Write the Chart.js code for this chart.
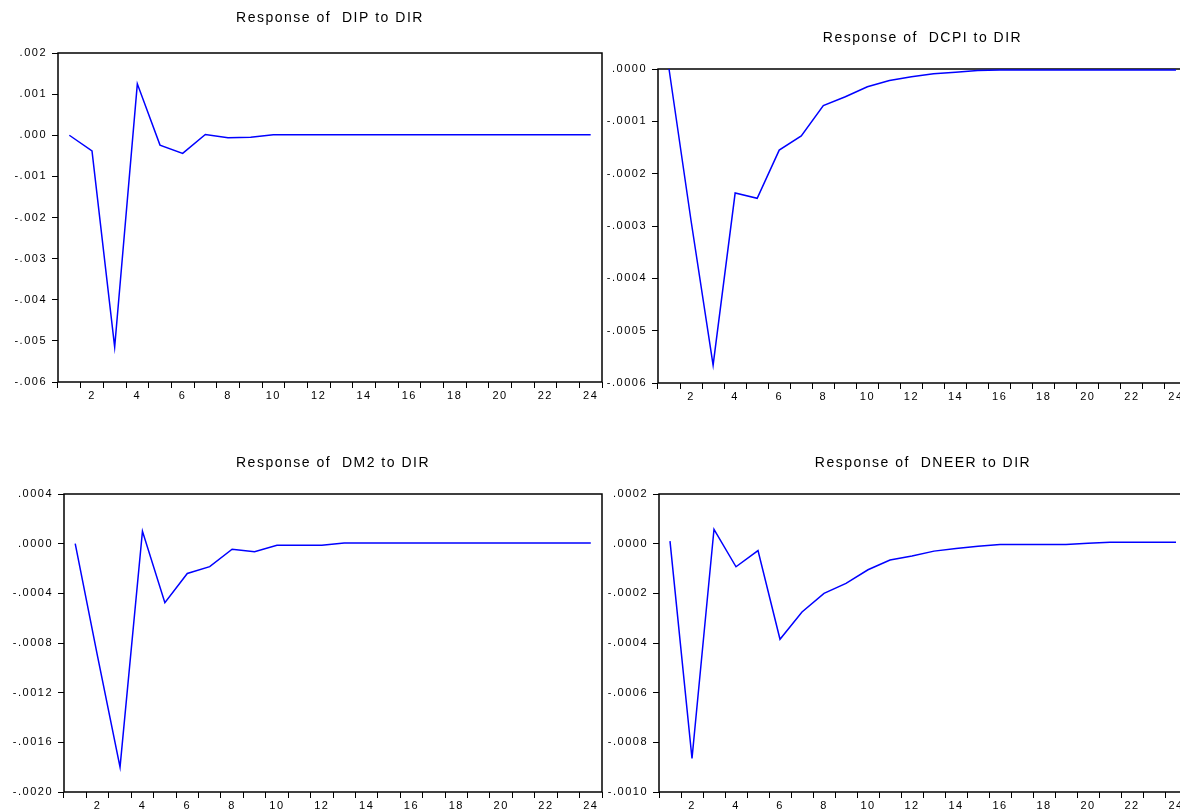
<!DOCTYPE html>
<html>
<head>
<meta charset="utf-8">
<script src="https://cdn.jsdelivr.net/npm/chart.js@4.4.1/dist/chart.umd.min.js"></script>
<style>
  html, body { margin: 0; padding: 0; background: #fff; }
  #page { position: relative; width: 1180px; height: 812px; overflow: hidden; background: #fff; }
  canvas { position: absolute; }
</style>
</head>
<body>
<div id="page">
  <canvas id="dip"></canvas>
  <canvas id="dcpi"></canvas>
  <canvas id="dm2"></canvas>
  <canvas id="dneer"></canvas>
</div>
<script>
// periods of the impulse response
const periods = ['1', '2', '3', '4', '5', '6', '7', '8', '9', '10', '11', '12',
                 '13', '14', '15', '16', '17', '18', '19', '20', '21', '22', '23', '24'];

// responses
const dipValues = [0.0, -0.00038, -0.00515, 0.00125, -0.00024, -0.00044, 0.00002, -0.00006,
                   -0.00005, 0.00001, 0.00001, 0.00001, 0.00001, 0.00001, 0.00001, 0.00001,
                   0.00001, 0.00001, 0.00001, 0.00001, 0.00001, 0.00001, 0.00001, 0.00001];
const dcpiValues = [0.0, -0.00029, -0.000566, -0.000237, -0.000247, -0.000155, -0.000128, -0.00007,
                    -0.000053, -0.000034, -0.000022, -0.000015, -0.000009, -0.000006, -0.000003, -0.000002,
                    -0.000002, -0.000002, -0.000002, -0.000002, -0.000002, -0.000002, -0.000002, -0.000002];
const dm2Values = [0.0, -0.00091, -0.0018, 0.0001, -0.000475, -0.00024, -0.000185, -0.000045,
                   -0.000065, -0.000012, -0.000012, -0.000012, 0.000005, 0.000005, 0.000005, 0.000005,
                   0.000005, 0.000005, 0.000005, 0.000005, 0.000005, 0.000005, 0.000005, 0.000005];
const dneerValues = [0.00001, -0.000865, 0.000058, -0.000093, -0.000028, -0.000385, -0.000275, -0.0002,
                     -0.00016, -0.000105, -0.000066, -0.00005, -0.00003, -0.000019, -0.00001, -0.000003,
                     -0.000003, -0.000003, -0.000003, 0.000002, 0.000006, 0.000006, 0.000006, 0.000006];

// y tick values
const dipTicks = [-0.006, -0.005, -0.004, -0.003, -0.002, -0.001, 0, 0.001, 0.002];
const dcpiTicks = [-0.0006, -0.0005, -0.0004, -0.0003, -0.0002, -0.0001, 0];
const dm2Ticks = [-0.0020, -0.0016, -0.0012, -0.0008, -0.0004, 0, 0.0004];
const dneerTicks = [-0.0010, -0.0008, -0.0006, -0.0004, -0.0002, 0, 0.0002];

const FONT = 'Liberation Sans, Arial, sans-serif';

// eviews style labels: .002, -.0004
function tickLabel(v, digits) {
    const s = Math.abs(v).toFixed(digits).replace(/^0/, '');
    return (v < -1e-12 ? '-' : '') + s;
}

const framePlugin = {
    id: 'frame',
    beforeDraw(chart) {
        chart.ctx.letterSpacing = '1.5px';
    },
    beforeDatasetsDraw(chart) {
        const { ctx, chartArea: a } = chart;
        ctx.save();
        ctx.strokeStyle = '#000';
        ctx.lineWidth = 1.5;
        ctx.strokeRect(a.left, a.top, a.right - a.left, a.bottom - a.top);
        ctx.restore();
    }
};

const panels = [
    { id: 'dip', title: 'Response of  DIP to DIR', values: dipValues, ticks: dipTicks, digits: 3,
      left: 0, top: 0, width: 610, height: 410, yWidth: 58, xHeight: 28, padRight: 8, titleTop: 11, titleBottom: 28 },
    { id: 'dcpi', title: 'Response of  DCPI to DIR', values: dcpiValues, ticks: dcpiTicks, digits: 4,
      left: 600, top: 0, width: 600, height: 410, yWidth: 58, xHeight: 27, padRight: 13, titleTop: 31, titleBottom: 24 },
    { id: 'dm2', title: 'Response of  DM2 to DIR', values: dm2Values, ticks: dm2Ticks, digits: 4,
      left: 0, top: 440, width: 610, height: 372, yWidth: 64, xHeight: 20, padRight: 8, titleTop: 16, titleBottom: 24 },
    { id: 'dneer', title: 'Response of  DNEER to DIR', values: dneerValues, ticks: dneerTicks, digits: 4,
      left: 600, top: 440, width: 600, height: 372, yWidth: 59, xHeight: 20, padRight: 13, titleTop: 16, titleBottom: 24 }
];

panels.forEach(p => {
    const canvas = document.getElementById(p.id);
    canvas.width = p.width;
    canvas.height = p.height;
    canvas.style.left = p.left + 'px';
    canvas.style.top = p.top + 'px';

    new Chart(canvas.getContext('2d'), {
        type: 'line',
        data: {
            labels: periods,
            datasets: [{
                data: p.values,
                borderColor: '#0000ff',
                borderWidth: 1.5,
                pointRadius: 0,
                tension: 0,
                fill: false,
                clip: false
            }]
        },
        options: {
            responsive: false,
            animation: false,
            layout: { padding: { left: 0, right: p.padRight, top: 0, bottom: 0 } },
            plugins: {
                legend: { display: false },
                tooltip: { enabled: false },
                title: {
                    display: true,
                    text: p.title,
                    fullSize: false,
                    color: '#000',
                    font: { family: FONT, size: 14, weight: 'normal', lineHeight: 1 },
                    padding: { top: p.titleTop, bottom: p.titleBottom }
                }
            },
            scales: {
                x: {
                    offset: true,
                    grid: { offset: true, drawOnChartArea: false, drawTicks: true, tickLength: 6, color: '#000', lineWidth: 1 },
                    border: { display: false },
                    ticks: {
                        autoSkip: false,
                        maxRotation: 0,
                        padding: 1,
                        color: '#000',
                        font: { family: FONT, size: 11 },
                        callback: (value, index) => (index % 2 === 1 ? periods[index] : '')
                    },
                    afterFit: scale => { scale.height = p.xHeight; }
                },
                y: {
                    min: p.ticks[0],
                    max: p.ticks[p.ticks.length - 1],
                    grid: { drawOnChartArea: false, drawTicks: true, tickLength: 6, color: '#000', lineWidth: 1 },
                    border: { display: false },
                    ticks: {
                        padding: 5,
                        color: '#000',
                        font: { family: FONT, size: 11 },
                        callback: value => tickLabel(value, p.digits)
                    },
                    afterBuildTicks: scale => { scale.ticks = p.ticks.map(v => ({ value: v })); },
                    afterFit: scale => { scale.width = p.yWidth; }
                }
            }
        },
        plugins: [framePlugin]
    });
});
</script>
</body>
</html>
